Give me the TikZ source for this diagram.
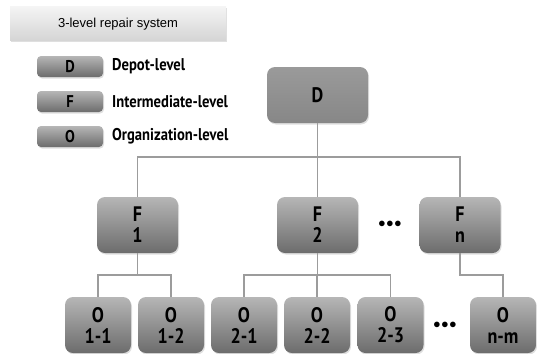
\documentclass[tikz,border=0pt]{standalone}
\usepackage{fontspec}
\setmainfont{PT Sans}
\newfontfamily\titlefont{Liberation Sans}
\newfontfamily\condfont[FakeStretch=0.86]{PT Sans}
\usetikzlibrary{shadows}

\definecolor{boxtop}{HTML}{B6B6B6}
\definecolor{boxbot}{HTML}{6C6C6C}
\definecolor{depottop}{HTML}{9A9A9A}
\definecolor{depotbot}{HTML}{878787}
\definecolor{titletop}{HTML}{F4F4F4}
\definecolor{titlebot}{HTML}{D4D4D4}
\definecolor{linkgray}{HTML}{9C9C9C}

\tikzset{
  boxshadow/.style={drop shadow={shadow xshift=1pt, shadow yshift=-1.5pt, opacity=0.25}},
  unitbox/.style={boxshadow, rounded corners=8pt, top color=boxtop, bottom color=boxbot,
    draw=none, align=center, inner sep=0pt,
    font=\condfont\fontsize{21}{21}\selectfont\bfseries},
  depotbox/.style={unitbox, top color=depottop, bottom color=depotbot,
    minimum width=101pt, minimum height=56pt},
  fbox/.style={unitbox, minimum width=81pt, minimum height=56pt},
  obox/.style={unitbox, minimum width=66pt, minimum height=56pt},
  keybox/.style={boxshadow, rounded corners=4pt, top color=boxtop, bottom color=boxbot,
    draw=none, minimum width=66pt, minimum height=21pt, inner sep=0pt,
    font=\condfont\fontsize{17}{17}\selectfont\bfseries},
  keytext/.style={anchor=west, inner sep=0pt,
    font=\condfont\fontsize{17}{19}\selectfont\bfseries},
  titlebox/.style={boxshadow, top color=titletop, bottom color=titlebot, draw=none,
    minimum width=216pt, minimum height=34pt, inner sep=0pt,
    font=\titlefont\fontsize{13}{15}\selectfont},
  link/.style={draw=linkgray, line width=1.1pt},
  dots/.style={inner sep=0pt, font=\fontsize{15}{15}\selectfont\bfseries}
}

\begin{document}
\begin{tikzpicture}[x=1pt, y=-1pt]
\useasboundingbox (0,0) rectangle (537,353);

\coordinate (busF) at (317.5,157);
\coordinate (busO) at (0,275);

% title and key
\node[titlebox] (title) at (118,24) {3-level repair system};
\node[keybox] (keyD) at (70,66.5) {D};
\node[keybox] (keyF) at (70,101.5) {F};
\node[keybox] (keyO) at (70,136.5) {O};
\node[keytext] (labD) at (112,66.5) {Depot-level};
\node[keytext] (labF) at (112,101.5) {Intermediate-level};
\node[keytext] (labO) at (112,136.5) {Organization-level};

% depot level
\node[depotbox] (D) at (317.5,95) {D};

% intermediate level
\node[fbox] (F1) at (137.5,225) {F\\1};
\node[fbox] (F2) at (317.5,225) {F\\2};
\node[fbox] (Fn) at (460,225) {F\\n};
\node[dots] (fdots) at (390,224) {$\bullet\!\bullet\!\bullet$};

% organization level
\node[obox] (O11) at (98,325) {O\\1-1};
\node[obox] (O12) at (171,325) {O\\1-2};
\node[obox] (O21) at (244,325) {O\\2-1};
\node[obox] (O22) at (317,325) {O\\2-2};
\node[obox] (O23) at (390.5,325) {O\\2-3};
\node[obox] (Onm) at (503,325) {O\\n-m};
\node[dots] (odots) at (445,325) {$\bullet\!\bullet\!\bullet$};

% connectors
\draw[link] (D.south) -- (busF);
\draw[link] (F1.north) |- (busF) -| (Fn.north);
\draw[link] (F2.north) -- (busF);
\draw[link] (F1.south) -- (F1.south |- busO);
\draw[link] (O11.north) |- (F1.south |- busO) -| (O12.north);
\draw[link] (F2.south) -- (F2.south |- busO);
\draw[link] (O21.north) |- (F2.south |- busO) -| (O23.north);
\draw[link] (O22.north) -- (O22.north |- busO);
\draw[link] (Fn.south) -- (Fn.south |- busO) -| (Onm.north);
\end{tikzpicture}
\end{document}
